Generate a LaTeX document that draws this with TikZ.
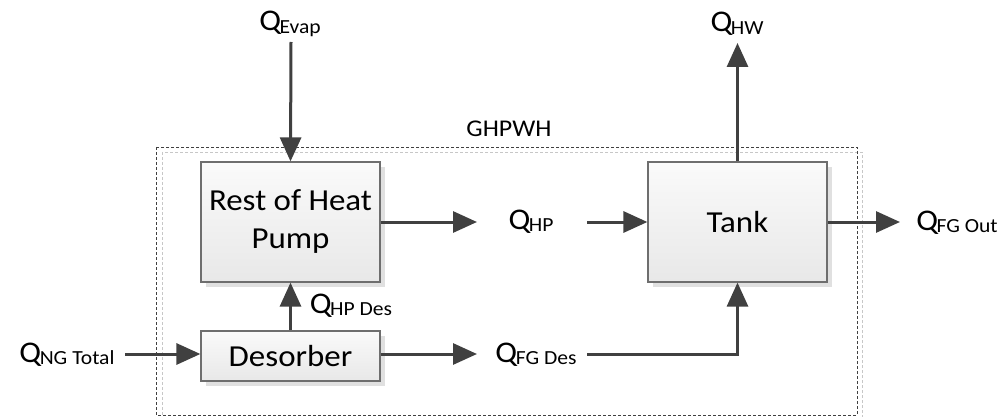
\documentclass[tikz,border=0pt]{standalone}
\usepackage{fontspec}
\setmainfont{Carlito}[FakeStretch=1.08]
\usetikzlibrary{arrows.meta,shadows}
\definecolor{arrowgray}{HTML}{404040}
\definecolor{boxedge}{HTML}{6E6E6E}
\newcommand{\Qsub}[1]{Q\kern-1.5pt\raisebox{-2.5pt}{\fontsize{20}{20}\selectfont #1}}
\begin{document}
\begin{tikzpicture}[x=1pt,y=-1pt,
  blockbox/.style={draw=boxedge, line width=1.2pt, top color=white!98!black, bottom color=black!9,
    drop shadow={shadow xshift=5pt, shadow yshift=-5pt, fill=black!12, opacity=1},
    inner sep=0pt, align=center, font=\fontsize{30.5}{38}\selectfont},
  qlabel/.style={inner sep=0pt, anchor=base, font=\fontsize{30}{36}\selectfont},
  flow/.style={draw=arrowgray, line width=3pt, -{Triangle[length=24pt,width=21pt]}}]
\useasboundingbox (0,0) rectangle (1007,417);
% outer dashed boundary with its light shadow
\draw[black!22, line width=0.9pt, dash pattern=on 3pt off 2pt] (162,152) rectangle (862,420);
\draw[arrowgray, line width=0.9pt, dash pattern=on 3pt off 2pt] (156,147) rectangle (857,415);
\node[anchor=base, inner sep=0pt, font=\fontsize{24}{24}\selectfont] (ghpwh) at (509,137) {GHPWH};
% blocks
\node[blockbox, minimum width=179pt, minimum height=120pt] (rhp) at (290.5,222) {Rest of Heat\\Pump};
\node[blockbox, minimum width=179pt, minimum height=120pt] (tank) at (737.5,222) {Tank};
\node[blockbox, minimum width=179pt, minimum height=50pt] (des) at (290.5,356) {Desorber};
% labels
\node[qlabel] (qevap) at (290,31) {\Qsub{Evap}};
\node[qlabel] (qhw) at (737,32) {\Qsub{HW}};
\node[qlabel] (qhp) at (531,229) {\Qsub{HP}};
\node[qlabel] (qfgout) at (957,230) {\Qsub{FG Out}};
\node[qlabel] (qhpdes) at (351,313) {\Qsub{HP Des}};
\node[qlabel] (qng) at (67,362) {\Qsub{NG Total}};
\node[qlabel] (qfgdes) at (536,362) {\Qsub{FG Des}};
% free ends of connectors
\coordinate (evapend) at (291,42);
\coordinate (hpin) at (477,222);
\coordinate (hpout) at (587,222);
\coordinate (fgoutend) at (900,222);
\coordinate (hwend) at (737.5,43);
\coordinate (ngstart) at (125,354);
\coordinate (fgdesin) at (477,354);
\coordinate (fgdesout) at (587,354);
% connectors
\draw[flow] (evapend) -- (rhp.north);
\draw[flow] (rhp.east) -- (hpin);
\draw[flow] (hpout) -- (tank.west);
\draw[flow] (tank.east) -- (fgoutend);
\draw[flow] (tank.north) -- (hwend);
\draw[flow] (des.north) -- (rhp.south);
\draw[flow] (ngstart) -- (ngstart -| des.west);
\draw[flow] (des.east |- fgdesin) -- (fgdesin);
\draw[flow] (fgdesout) -| (tank.south);
\end{tikzpicture}
\end{document}
